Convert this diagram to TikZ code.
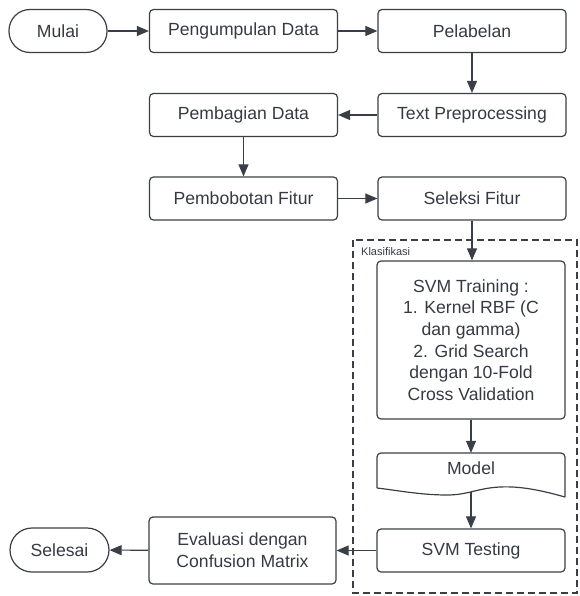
\documentclass[tikz,border=0pt]{standalone}
\usepackage{fontspec}
\setmainfont{Liberation Sans}
\usetikzlibrary{arrows.meta}
\definecolor{ln}{HTML}{3A3F47}
\definecolor{tx}{HTML}{353A42}
\begin{document}
\begin{tikzpicture}[x=1pt,y=-1pt,
  txt/.style={text=tx, font=\fontsize{17.6}{21.7}\selectfont, align=center},
  box/.style={txt, draw=ln, line width=1.2pt, rounded corners=4pt, minimum width=188pt, minimum height=43pt, inner sep=0pt},
  term/.style={txt, draw=ln, line width=1.2pt, rounded corners=21pt, minimum height=43pt, inner sep=0pt},
  arr/.style={draw=ln, line width=1.1pt, -{Triangle[length=12pt,width=10pt]}},
  group/.style={draw=ln, line width=1.5pt, dash pattern=on 7pt off 4pt}]
\useasboundingbox (0,0) rectangle (579,596);
% dashed group
\draw[group] (353,240) rectangle (577,593);
\node[anchor=west, text=tx, font=\fontsize{11}{12}\selectfont, inner sep=0pt] (klas) at (361,252) {Klasifikasi};
% nodes
\node[term, minimum width=98pt] (mulai) at (58,31) {Mulai};
\node[box] (peng) at (243.5,31) {Pengumpulan Data};
\node[box] (pel) at (472,31) {Pelabelan};
\node[box] (bag) at (243.5,115) {Pembagian Data};
\node[box] (prep) at (472,115) {Text Preprocessing};
\node[box] (bobot) at (243.5,198.5) {Pembobotan Fitur};
\node[box] (sel) at (472,198.5) {Seleksi Fitur};
\node[box, minimum height=158pt] (train) at (471,340) {SVM Training :\\1. Kernel RBF (C\\dan gamma)\\2. Grid Search\\dengan 10-Fold\\Cross Validation};
\node[txt, minimum width=188pt, minimum height=30pt, inner sep=0pt] (model) at (471,468) {Model};
\draw[ln, line width=1.2pt, rounded corners=4pt] (377,488) -- (377,453) -- (565,453) -- (565,497);
\draw[ln, line width=1.2pt] (565,497) .. controls (540,490) and (520,486) .. (500,487) .. controls (478,488) and (468,495) .. (447,495) .. controls (420,495) and (395,490) .. (377,488);
\coordinate (modelbot) at (471,492);
\node[box] (test) at (471,550.5) {SVM Testing};
\node[box, minimum width=187pt, minimum height=67pt] (eval) at (242.5,550.5) {Evaluasi dengan\\Confusion Matrix};
\node[term, minimum width=99pt, minimum height=44pt, rounded corners=22pt] (selesai) at (59.5,550) {Selesai};
% connectors
\draw[arr] (mulai) -- (peng);
\draw[arr] (peng) -- (pel);
\draw[arr] (pel) -- (prep);
\draw[arr] (prep) -- (bag);
\draw[arr] (bag) -- (bobot);
\draw[arr] (bobot) -- (sel);
\draw[arr] (sel.south) -- (sel.south |- train.north);
\draw[arr] (train) -- (model.north);
\draw[arr] (modelbot) -- (test.north);
\draw[arr] (test) -- (eval);
\draw[arr] (eval) -- (selesai);
\end{tikzpicture}
\end{document}
